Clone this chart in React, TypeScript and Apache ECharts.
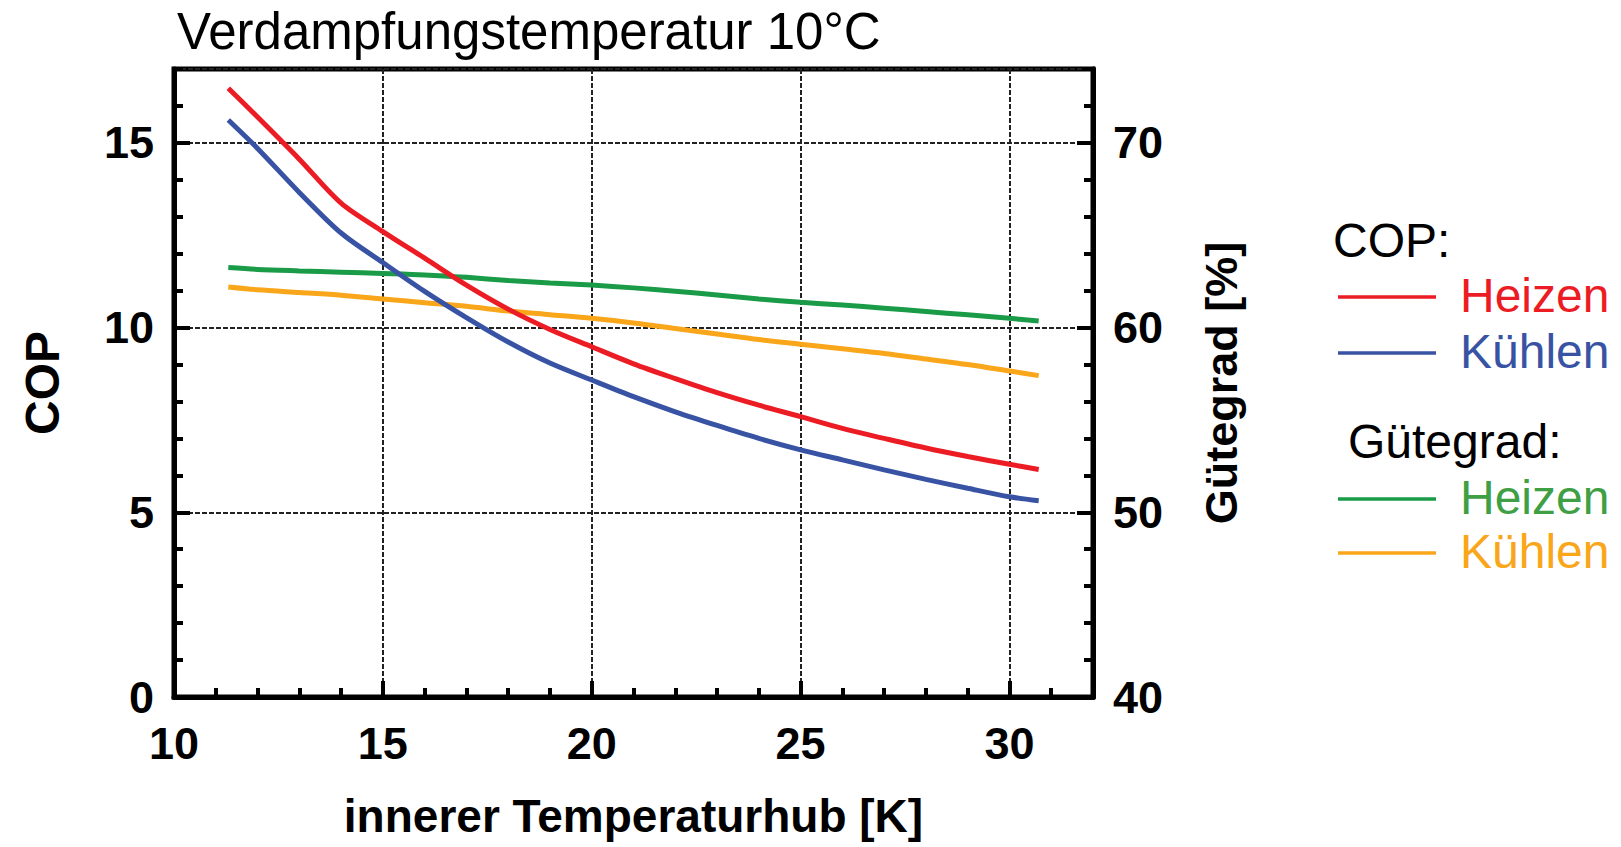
import React, { useEffect, useRef } from "react";
import * as echarts from "echarts";

const FONT = "'Liberation Sans', Arial, Helvetica, sans-serif";

const titleText = "Verdampfungstemperatur 10°C";
const xAxisName = "innerer Temperaturhub [K]";
const leftAxisName = "COP";
const rightAxisName = "Gütegrad [%]";

const xValues = [11.3, 12, 13, 14, 15, 16, 17, 18, 19, 20, 21, 22, 23, 24, 25, 26, 27, 28, 29, 30, 30.7];
const copHeizen = [16.48, 15.7, 14.56, 13.37, 12.6, 11.88, 11.15, 10.5, 9.95, 9.48, 9.02, 8.62, 8.24, 7.9, 7.59, 7.27, 7.0, 6.74, 6.51, 6.3, 6.16];
const copKuehlen = [15.62, 14.85, 13.66, 12.56, 11.76, 10.98, 10.27, 9.61, 9.04, 8.58, 8.13, 7.72, 7.35, 7.0, 6.69, 6.42, 6.15, 5.89, 5.65, 5.42, 5.31];
const guteHeizen = [63.25, 63.15, 63.07, 63.0, 62.93, 62.85, 62.72, 62.55, 62.42, 62.3, 62.15, 61.97, 61.77, 61.55, 61.37, 61.22, 61.05, 60.87, 60.69, 60.5, 60.36];
const guteKuehlen = [62.2, 62.05, 61.9, 61.75, 61.55, 61.35, 61.15, 60.9, 60.7, 60.5, 60.25, 59.95, 59.65, 59.35, 59.1, 58.85, 58.6, 58.3, 58.0, 57.65, 57.4];

const RED = "#ec1c24";
const BLUE = "#3953a4";
const GREEN = "#1a9b48";
const ORANGE = "#f9a61a";
const GREEN_TEXT = "#3f9f45";

const legendGroups = [
  { header: "COP:", headerX: 1333, headerY: 240, items: [
    { label: "Heizen", color: RED, textColor: RED, y: 297 },
    { label: "Kühlen", color: BLUE, textColor: BLUE, y: 353 },
  ] },
  { header: "Gütegrad:", headerX: 1348, headerY: 441, items: [
    { label: "Heizen", color: GREEN, textColor: GREEN_TEXT, y: 499 },
    { label: "Kühlen", color: ORANGE, textColor: ORANGE, y: 553 },
  ] },
];

const pairs = (ys: number[]) => xValues.map((x, i) => [x, ys[i]]);

export default function App() {
  const ref = useRef<HTMLDivElement>(null);
  useEffect(() => {
    if (!ref.current) return;
    const chart = echarts.init(ref.current, undefined, { renderer: "svg" });
    const axisLine = { show: true, onZero: false, lineStyle: { color: "#000", width: 5 } };
    const majorTick = { show: true, inside: true, length: 16, lineStyle: { color: "#000", width: 4 } };
    const minorTickAxis = { show: true, inside: true, length: 9, lineStyle: { color: "#000", width: 4 } };
    const labelStyle = { color: "#000", fontSize: 45, fontWeight: "bold", fontFamily: FONT };
    const split = { show: true, lineStyle: { type: [5, 2], color: "#222", width: 2 } };

    const graphics: any[] = [];
    legendGroups.forEach((g) => {
      graphics.push({ type: "text", x: g.headerX, y: g.headerY, style: { text: g.header, fill: "#000", font: `48px ${FONT}`, verticalAlign: "middle", align: "left" } });
      g.items.forEach((it) => {
        graphics.push({ type: "line", shape: { x1: 1338, y1: it.y, x2: 1436, y2: it.y }, style: { stroke: it.color, lineWidth: 3.5 } });
        graphics.push({ type: "text", x: 1460, y: it.y - 2, style: { text: it.label, fill: it.textColor, font: `48px ${FONT}`, verticalAlign: "middle", align: "left" } });
      });
    });

    const lineSeries = (name: string, data: number[], color: string, yAxisIndex: number) => ({
      name,
      type: "line",
      xAxisIndex: 0,
      yAxisIndex,
      data: pairs(data),
      showSymbol: false,
      smooth: 0.3,
      lineStyle: { color, width: 5 },
      itemStyle: { color },
    });

    chart.setOption({
      animation: false,
      backgroundColor: "#fff",
      title: {
        text: titleText,
        left: 172,
        top: 1,
        textStyle: { fontSize: 51, fontWeight: "normal", color: "#000", fontFamily: FONT },
      },
      grid: { left: 174, top: 69, width: 919, height: 628, show: true, borderColor: "#000", borderWidth: 5, backgroundColor: "transparent" },
      xAxis: [
        {
          type: "value", min: 10, max: 32, interval: 5, position: "bottom",
          axisLine, axisTick: majorTick,
          axisLabel: { ...labelStyle, margin: 24, showMaxLabel: false },
          splitLine: split,
          name: xAxisName, nameLocation: "middle", nameGap: 96,
          nameTextStyle: { color: "#000", fontSize: 46, fontWeight: "bold", fontFamily: FONT },
        },
        {
          type: "value", min: 10, max: 32, interval: 1, position: "bottom",
          axisLine: { show: false, onZero: false }, axisTick: minorTickAxis,
          axisLabel: { show: false }, splitLine: { show: false },
        },
      ],
      yAxis: [
        {
          type: "value", min: 0, max: 17, interval: 5, position: "left",
          axisLine, axisTick: majorTick,
          axisLabel: { ...labelStyle, margin: 20, showMaxLabel: false },
          splitLine: split,
          name: leftAxisName, nameLocation: "middle", nameGap: 108, nameRotate: 90,
          nameTextStyle: { color: "#000", fontSize: 48, fontWeight: "bold", fontFamily: FONT },
        },
        {
          type: "value", min: 40, max: 74, interval: 10, position: "right",
          axisLine, axisTick: majorTick,
          axisLabel: { ...labelStyle, margin: 20, showMaxLabel: false },
          splitLine: { show: false },
          name: rightAxisName, nameLocation: "middle", nameGap: 106, nameRotate: 90,
          nameTextStyle: { color: "#000", fontSize: 45, fontWeight: "bold", fontFamily: FONT },
        },
        {
          type: "value", min: 0, max: 17, interval: 1, position: "left",
          axisLine: { show: false, onZero: false }, axisTick: minorTickAxis,
          axisLabel: { show: false }, splitLine: { show: false },
        },
        {
          type: "value", min: 40, max: 74, interval: 2, position: "right",
          axisLine: { show: false, onZero: false }, axisTick: minorTickAxis,
          axisLabel: { show: false }, splitLine: { show: false },
        },
      ],
      series: [
        lineSeries("Gütegrad Heizen", guteHeizen, GREEN, 1),
        lineSeries("Gütegrad Kühlen", guteKuehlen, ORANGE, 1),
        lineSeries("COP Heizen", copHeizen, RED, 0),
        lineSeries("COP Kühlen", copKuehlen, BLUE, 0),
      ],
      graphic: graphics,
    });
    return () => chart.dispose();
  }, []);
  return <div ref={ref} style={{ position: "fixed", left: 0, top: 0, width: 1621, height: 847, background: "#fff" }} />;
}
